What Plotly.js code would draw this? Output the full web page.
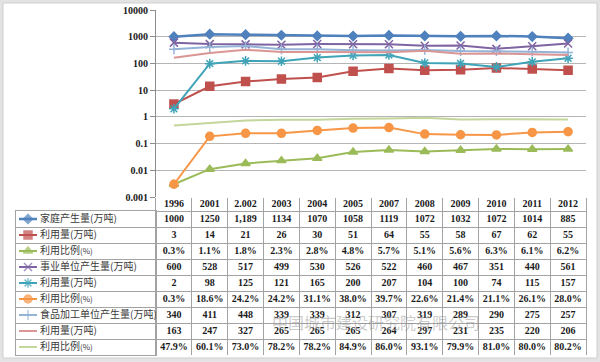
<!DOCTYPE html>
<html><head><meta charset="utf-8">
<script src="https://cdn.plot.ly/plotly-3.0.1.min.js"></script>
<style>html,body{margin:0;padding:0;background:#e3e3e3;}#chart{width:600px;height:362px;}</style>
</head><body><div id="chart"></div>
<script>
const categories = ['1996','2001','2.002','2003','2004','2005','2007','2008','2009','2010','2011','2012'];
const householdGen = [1000,1250,1189,1134,1070,1058,1119,1072,1032,1072,1014,885];
const householdGenText = ['1000','1250','1,189','1134','1070','1058','1119','1072','1032','1072','1014','885'];
const householdUse = [3,14,21,26,30,51,64,55,58,67,62,55];
const householdRatio = [0.3,1.1,1.8,2.3,2.8,4.8,5.7,5.1,5.6,6.3,6.1,6.2];
const instGen = [600,528,517,499,530,526,522,460,467,351,440,561];
const instUse = [2,98,125,121,165,200,207,104,100,74,115,157];
const instRatio = [0.3,18.6,24.2,24.2,31.1,38.0,39.7,22.6,21.4,21.1,26.1,28.0];
const foodGen = [340,411,448,339,339,312,307,319,289,290,275,257];
const foodUse = [163,247,327,265,265,265,264,297,231,235,220,206];
const foodRatio = [47.9,60.1,73.0,78.2,78.2,84.9,86.0,93.1,79.9,81.0,80.0,80.2];
const seriesNames = ['家庭产生量(万吨)','利用量(万吨)','利用比例(%)','事业单位产生量(万吨)','利用量(万吨)','利用比例(%)','食品加工单位产生量(万吨)','利用量(万吨)','利用比例(%)'];
const yTickVals = [0.001,0.01,0.1,1,10,100,1000,10000];
const yTickText = ['0.001','0.01','0.1','1','10','100','1000','10000'];

const pct = a => a.map(v => v/100);
const pctText = a => a.map(v => v.toFixed(1)+'%');
const intText = a => a.map(v => String(v));

const series = [
  {y: householdGen, txt: householdGenText, color:'#4F81BD', sym:'diamond', size:7, lw:2.5, mlc:'#4F81BD'},
  {y: householdUse, txt: intText(householdUse), color:'#C0504D', sym:'square', size:8, lw:2, mlc:'#C0504D'},
  {y: pct(householdRatio), txt: pctText(householdRatio), color:'#9BBB59', sym:'triangle-up', size:8, lw:2, mlc:'#9BBB59'},
  {y: instGen, txt: intText(instGen), color:'#7F64A2', sym:'x-thin-open', size:8, lw:2, mlc:'#a593c4'},
  {y: instUse, txt: intText(instUse), color:'#3FA4B8', sym:'asterisk-open', size:8, lw:2, mlc:'#7fc6da'},
  {y: pct(instRatio), txt: pctText(instRatio), color:'#F79646', sym:'circle', size:8, lw:2, mlc:'#F79646'},
  {y: foodGen, txt: intText(foodGen), color:'#95B3D7', sym:'cross-thin-open', size:7, lw:2, mlc:'#95B3D7'},
  {y: foodUse, txt: intText(foodUse), color:'#D99694', sym:null, size:0, lw:2, mlc:'#D99694'},
  {y: pct(foodRatio), txt: pctText(foodRatio), color:'#C3D69B', sym:null, size:0, lw:2, mlc:'#C3D69B'}
];

const W = 600, H = 362;
const px = v => v / W, py = v => 1 - v / H;
const numFont = 'Liberation Serif';
const lineGray = '#a3a3a3';
const headerH = 13/16;

const traces = [];
// chart lines
series.forEach((s, i) => {
  const t = {
    type:'scatter', x: categories, y: s.y, name: seriesNames[i],
    mode: s.sym ? 'lines+markers' : 'lines',
    line:{color:s.color, width:s.lw},
    xaxis:'x', yaxis:'y', showlegend:false, hoverinfo:'skip'
  };
  if (s.sym) t.marker = {symbol:s.sym, size:s.size, color:s.color, line:{color:s.mlc, width:1.5}};
  traces.push(t);
});

// table: header (years)
traces.push({
  type:'scatter', mode:'text', x: categories, y: categories.map(() => -headerH/2),
  text: categories.map(c => '<b>'+c+'</b>'), textposition:'middle center',
  textfont:{family:numFont, size:10, color:'#1a1a1a'},
  xaxis:'x3', yaxis:'y3', showlegend:false, hoverinfo:'skip'
});
// table: cells
series.forEach((s, i) => {
  traces.push({
    type:'scatter', mode:'text', x: categories, y: categories.map(() => i + 0.5),
    text: s.txt.map(v => '<b>'+v+'</b>'), textposition:'middle center',
    textfont:{family:numFont, size:10, color:'#1a1a1a'},
    xaxis:'x3', yaxis:'y3', showlegend:false, hoverinfo:'skip'
  });
});
// table: row labels
traces.push({
  type:'scatter', mode:'text', x: seriesNames.map(() => 24), y: seriesNames.map((n, i) => i + 0.5),
  text: seriesNames.map(n => n.replace('(%)', '<span style="font-size:8px">(%)</span>')),
  textposition:'middle right',
  textfont:{family:'Noto Sans CJK SC', size:10, color:'#3a3a3a'},
  xaxis:'x4', yaxis:'y4', showlegend:false, hoverinfo:'skip'
});
// legend icons in label column
series.forEach((s, i) => {
  const t = {
    type:'scatter', x:[3, 12, 21], y:[i+0.5, i+0.5, i+0.5],
    mode: s.sym ? 'lines+markers' : 'lines',
    line:{color:s.color, width:s.lw},
    xaxis:'x4', yaxis:'y4', showlegend:false, hoverinfo:'skip'
  };
  if (s.sym) t.marker = {symbol:s.sym, size:[0, s.size, 0], color:s.color, line:{color:s.mlc, width:1.5}};
  traces.push(t);
});

const rowBounds = [-headerH].concat(seriesNames.map((n, i) => i)).concat([seriesNames.length]);

const layout = {
  width: W, height: H,
  margin:{l:0, r:0, t:0, b:0},
  paper_bgcolor:'#e3e3e3',
  plot_bgcolor:'rgba(0,0,0,0)',
  showlegend:false,
  xaxis:{domain:[px(156), px(586)], type:'category', range:[-0.5, 11.5], showticklabels:false, showgrid:false, zeroline:false, showline:false, ticks:'', fixedrange:true},
  yaxis:{domain:[py(197), py(10)], type:'log', range:[-3, 4], tickvals:yTickVals, ticktext:yTickText.map(t => '<b>'+t+'</b>'),
         showgrid:true, gridcolor:'#b5b5b5', gridwidth:1, showline:true, linecolor:'#8c8c8c', linewidth:1, ticks:'outside', ticklen:5, tickcolor:'#8c8c8c', zeroline:false,
         tickfont:{family:numFont, size:10, color:'#1a1a1a'}},
  xaxis3:{domain:[px(156), px(586)], type:'category', categoryorder:'array', categoryarray:categories, range:[-0.5, 11.5], tickson:'boundaries',
          showgrid:true, gridcolor:lineGray, gridwidth:1, showticklabels:false, ticks:'', zeroline:false, showline:false, anchor:'y3', fixedrange:true},
  yaxis3:{domain:[py(355), py(198)], range:[seriesNames.length, -headerH], tickvals:rowBounds, showgrid:true, gridcolor:lineGray, gridwidth:1,
          showticklabels:false, ticks:'', zeroline:false, showline:true, mirror:true, linecolor:lineGray, anchor:'x3', fixedrange:true},
  xaxis4:{domain:[px(16), px(156)], range:[0, 140], showgrid:false, showticklabels:false, ticks:'', zeroline:false,
          showline:true, mirror:true, linecolor:lineGray, anchor:'y4', fixedrange:true},
  yaxis4:{domain:[py(355), py(211)], range:[seriesNames.length, 0], tickvals:rowBounds.slice(1), showgrid:true, gridcolor:lineGray, gridwidth:1,
          showticklabels:false, ticks:'', zeroline:false, showline:true, mirror:true, linecolor:lineGray, anchor:'x4', fixedrange:true},
  shapes:[
    {type:'rect', xref:'paper', yref:'paper', x0:px(3), x1:px(597), y0:py(358), y1:py(3), fillcolor:'white', line:{color:'#cfcfcf', width:1}, layer:'below'}
  ],
  annotations:[
    {xref:'paper', yref:'paper', x:px(482), y:py(336), text:'中国城市建设研究院有限公司', showarrow:false, font:{family:'Noto Sans CJK SC', size:16, color:'rgba(140,140,140,0.45)'}}
  ]
};

Plotly.newPlot('chart', traces, layout, {displayModeBar:false, staticPlot:true});
</script>
</body></html>
